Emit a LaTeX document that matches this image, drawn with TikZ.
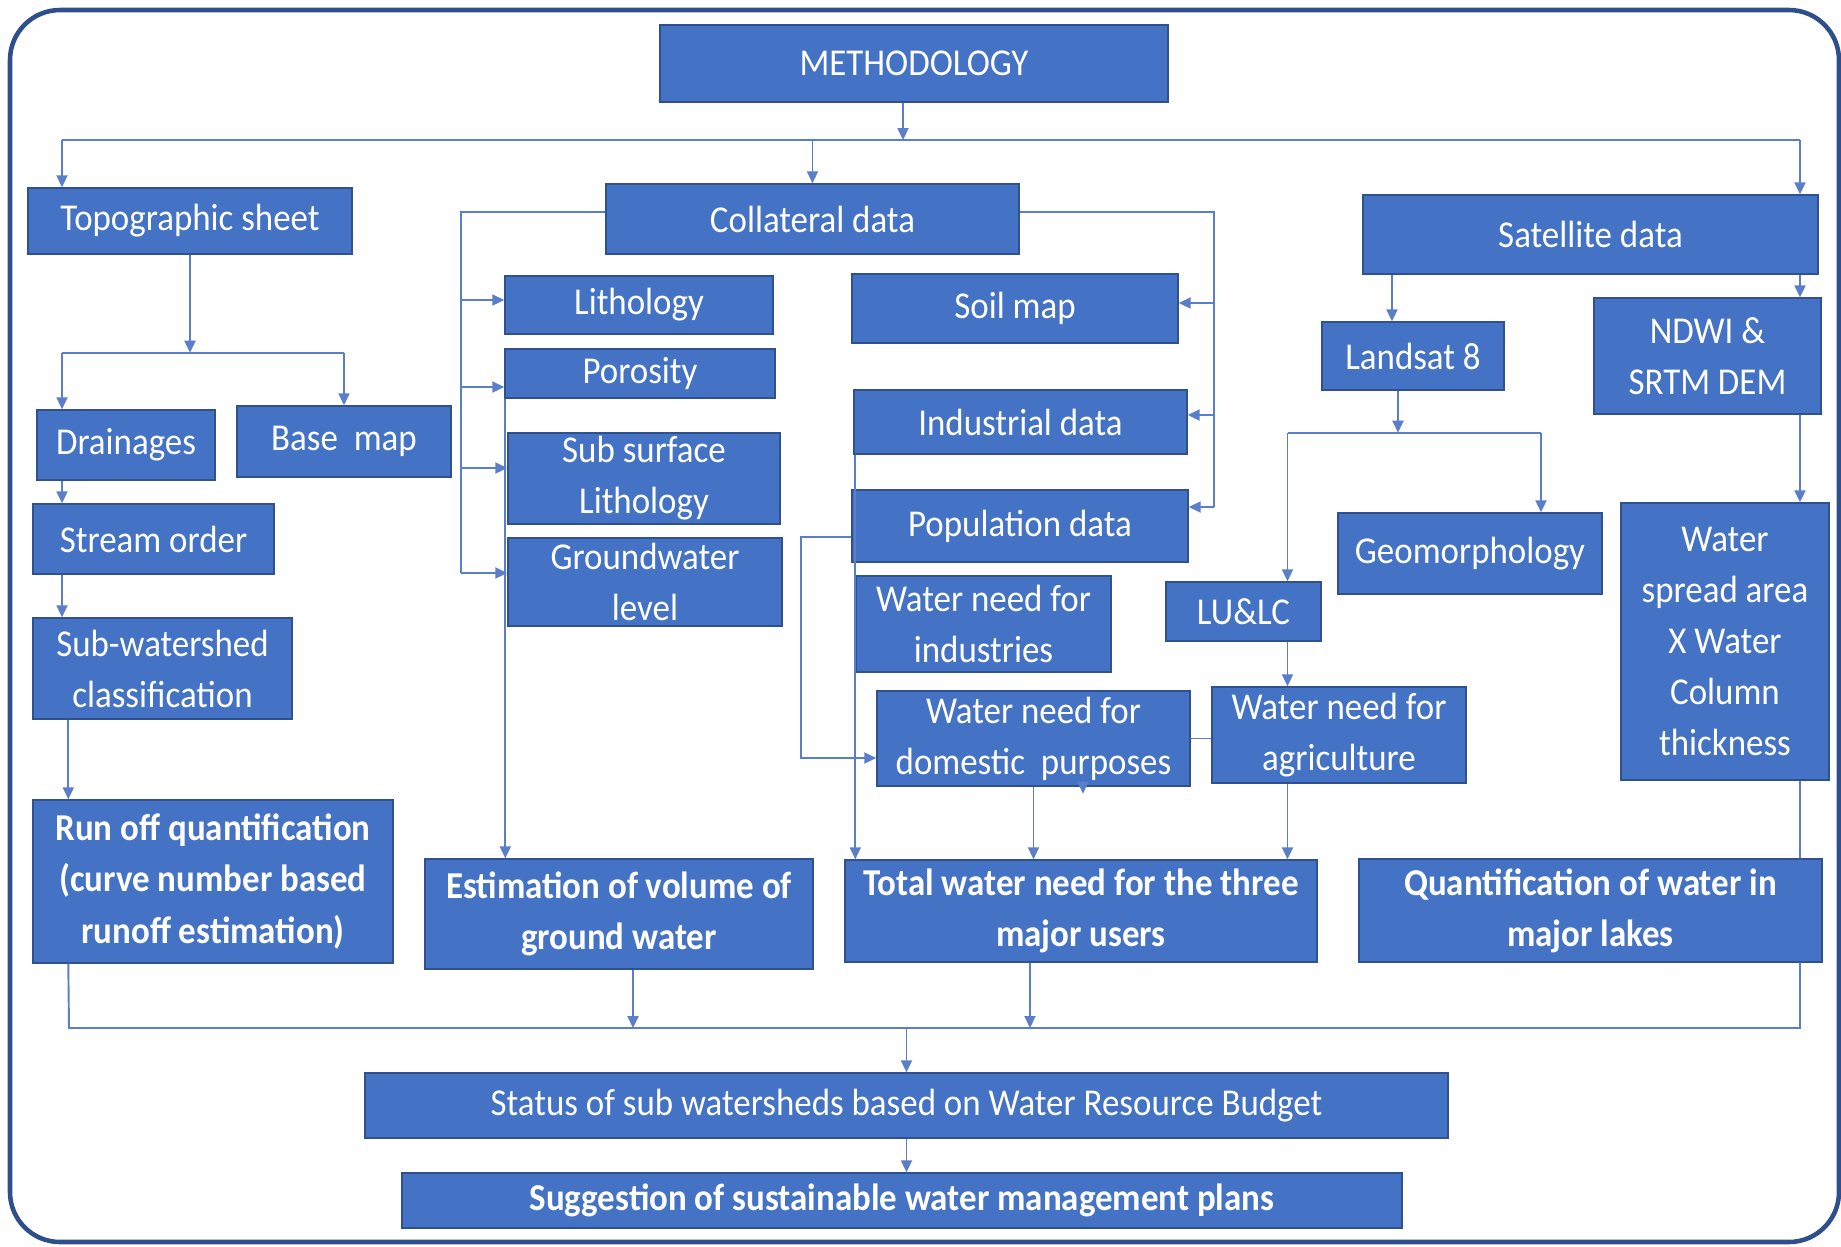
\documentclass[tikz,border=0pt]{standalone}
\usepackage{fontspec}
\setmainfont{Carlito}[FakeStretch=0.92]
\usetikzlibrary{arrows.meta}

\definecolor{boxblue}{HTML}{4472C4}
\definecolor{edgeblue}{HTML}{2F528F}
\definecolor{lineblue}{HTML}{5A7ECA}
\definecolor{framenavy}{HTML}{2F4F8C}

\begin{document}
\begin{tikzpicture}[
		x=1mm, y=-1mm,
		>={Triangle[length=1.2mm, width=1.1mm]},
		box/.style={rectangle, draw=edgeblue, fill=boxblue, text=white, align=center, inner sep=1pt, font=\fontsize{10.8}{14.5}\selectfont},
		boldbox/.style={box, font=\fontsize{10.8}{14.6}\selectfont\bfseries},
		dims/.style 2 args={minimum width=#1mm, minimum height=#2mm},
		link/.style={draw=lineblue, line width=0.55pt}
		]
		
		\useasboundingbox (0,0) rectangle (184.1,124.6);
		
		% Outer frame
		\draw[framenavy, line width=1.3pt, rounded corners=5mm] (1,1) rectangle (183.9,124.2);
		
		% Top level
		\node[box, dims={50.8}{7.7}] (meth) at (91.4,6.35) {METHODOLOGY};
		\node[box, dims={32.4}{6.6}] (topo) at (19.0,22.1) {Topographic sheet};
		\node[box, dims={41.3}{7.0}] (coll) at (81.25,21.9) {Collateral data};
		\node[box, dims={45.5}{7.9}] (sat) at (159.05,23.45) {Satellite data};
		
		% Topographic sheet branch
		\node[box, dims={17.8}{7.0}] (drain) at (12.6,44.5) {Drainages};
		\node[box, dims={21.4}{7.1}] (base) at (34.4,44.15) {Base\ \ map};
		\node[box, dims={24.1}{7.0}] (stream) at (15.35,53.9) {Stream order};
		\node[box, dims={25.9}{10.1}] (subws) at (16.25,66.85) {Sub-watershed\\classification};
		\node[boldbox, dims={36.0}{16.3}] (runoff) at (21.3,88.15) {Run off quantification\\(curve number based\\runoff estimation)};
		
		% Collateral data, left side
		\node[box, dims={26.8}{5.8}] (litho) at (63.9,30.5) {Lithology};
		\node[box, dims={27.0}{4.9}] (poro) at (64.0,37.35) {Porosity};
		\node[box, dims={27.2}{8.5}] (subsurf) at (64.4,47.85) {Sub surface\\Lithology};
		\node[box, dims={27.4}{8.8}] (gwl) at (64.5,58.2) {Groundwater\\level};
		\node[boldbox, dims={38.8}{11.0}] (est) at (61.9,91.4) {Estimation of volume of\\ground water};
		
		% Collateral data, right side
		\node[box, dims={32.6}{6.9}] (soil) at (101.5,30.85) {Soil map};
		\node[box, dims={33.3}{6.4}] (ind) at (102.05,42.2) {Industrial data};
		\node[box, dims={33.6}{7.2}] (pop) at (102.0,52.6) {Population data};
		\node[box, dims={25.5}{9.6}] (wnind) at (98.35,62.4) {Water need for\\industries};
		\node[box, dims={31.3}{9.5}] (wndom) at (103.35,73.85) {Water need for\\domestic\ \ purposes};
		\node[box, dims={25.4}{9.6}] (wnagr) at (133.9,73.5) {Water need for\\agriculture};
		\node[boldbox, dims={47.2}{10.2}] (total) at (108.1,91.1) {Total water need for the three\\major users};
		
		% Satellite data branch
		\node[box, dims={18.2}{6.8}] (landsat) at (141.3,35.6) {Landsat 8};
		\node[box, dims={22.7}{11.6}] (ndwi) at (170.75,35.6) {NDWI \&\\SRTM DEM};
		\node[box, dims={15.5}{5.9}] (lulc) at (124.35,61.15) {LU\&LC};
		\node[box, dims={26.4}{8.1}] (geo) at (147.0,55.35) {Geomorphology};
		\node[box, dims={20.8}{27.7}] (wsa) at (172.5,64.15) {Water\\spread area\\X Water\\Column\\thickness};
		\node[boldbox, dims={46.3}{10.3}] (quant) at (159.05,91.05) {Quantification of water in\\major lakes};
		
		% Bottom
		\node[box, dims={108.3}{6.5}] (status) at (90.65,110.55) {Status of sub watersheds based on Water Resource Budget};
		\node[boldbox, dims={100.0}{5.5}] (sugg) at (90.2,120.05) {Suggestion of sustainable water management plans};
		
		% Main distribution line
		\coordinate (busL) at (6.2,14);
		\coordinate (busR) at (180,14);
		\coordinate (mx) at ([xshift=-1.1mm]meth.south);
		\draw[link,->] (mx) -- (mx |- busL);
		\draw[link] (busL) -- (busR);
		\draw[link,->] (busL) -- (busL |- topo.north);
		\draw[link,->] (coll.north |- busL) -- (coll.north);
		\draw[link,->] (busR) -- (busR |- sat.north);
		
		% Topographic sheet arrows
		\coordinate (tbus) at ([yshift=-9.8mm]topo.south);
		\draw[link,->] (topo.south) -- (tbus);
		\draw[link] (busL |- tbus) -- (base.north |- tbus);
		\draw[link,->] (busL |- tbus) -- (busL |- drain.north);
		\draw[link,->] (base.north |- tbus) -- (base.north);
		\draw[link,->] (busL |- drain.south) -- (busL |- stream.north);
		\draw[link,->] (busL |- stream.south) -- (busL |- subws.north);
		\coordinate (rx) at ([xshift=3.6mm]runoff.north west);
		\draw[link,->] (rx |- subws.south) -- (rx);
		
		% Collateral data arrows, left
		\coordinate (cwl) at ([yshift=0.7mm]coll.west);
		\coordinate (cl) at ([xshift=-14.4mm]cwl);
		\coordinate (gtip) at ([yshift=0.9mm]gwl.west);
		\draw[link] (cwl) -- (cl) -- (cl |- gtip);
		\foreach \b/\s in {litho/0.5, poro/-1.35, subsurf/1.05, gwl/0.9} {
			\coordinate (tip) at ([yshift=\s mm]\b.west);
			\draw[link,->] (cl |- tip) -- (tip);
		}
		\coordinate (px) at ([xshift=0.1mm]poro.south west);
		\draw[link,->] (px) -- (px |- est.north);
		
		% Collateral data arrows, right
		\coordinate (cwr) at ([yshift=0.7mm]coll.east);
		\coordinate (cr) at ([xshift=19.4mm]cwr);
		\coordinate (ptip) at ([yshift=1.9mm]pop.east);
		\draw[link] (cwr) -- (cr) -- (cr |- ptip);
		\foreach \b/\s in {soil/0.55, ind/0.7, pop/1.9} {
			\coordinate (tip) at ([yshift=\s mm]\b.east);
			\draw[link,->] (cr |- tip) -- (tip);
		}
		\coordinate (ix) at ([xshift=0.2mm]ind.south west);
		\draw[link,->] (ix) -- (ix |- total.north);
		\coordinate (pw) at ([yshift=-1.1mm]pop.west);
		\coordinate (dw) at ([yshift=-1.95mm]wndom.west);
		\draw[link,->] (pw) -- ++(-5,0) |- (dw);
		\draw[link,->] (wndom.south) -- (wndom.south |- total.north);
		\draw[link] (wndom.east) -- (wndom.east -| wnagr.west);
		\coordinate (stray) at ([xshift=4.95mm]wndom.south);
		\draw[link,->] ([yshift=0.6mm]stray) -- ([yshift=-0.7mm]stray);
		
		% Satellite data arrows
		\draw[link,->] (busR |- sat.south) -- (busR |- ndwi.north);
		\draw[link,->] (busR |- ndwi.south) -- (busR |- wsa.north);
		\draw[link] (busR |- wsa.south) -- (busR |- quant.north);
		\coordinate (lx) at ([xshift=-2.1mm]landsat.north);
		\draw[link,->] (lx |- sat.south) -- (lx);
		\coordinate (lbus) at ([xshift=-1.5mm, yshift=-4.2mm]landsat.south);
		\draw[link,->] ([xshift=-1.5mm]landsat.south) -- (lbus);
		\coordinate (ux) at ([xshift=4.4mm]lulc.north);
		\coordinate (gx) at ([xshift=7.1mm]geo.north);
		\draw[link] (ux |- lbus) -- (gx |- lbus);
		\draw[link,->] (ux |- lbus) -- (ux);
		\draw[link,->] (gx |- lbus) -- (gx);
		\draw[link,->] (ux |- lulc.south) -- (ux |- wnagr.north);
		\draw[link,->] (ux |- wnagr.south) -- (ux |- total.north);
		
		% Collecting line and final steps
		\coordinate (bbL) at (6.9,102.8);
		\coordinate (bbR) at (180,102.8);
		\draw[link] (rx |- runoff.south) -- (bbL) -- (bbR) -- (busR |- quant.south);
		\coordinate (ex) at ([xshift=1.4mm]est.south);
		\draw[link,->] (ex) -- (ex |- bbL);
		\coordinate (tx) at ([xshift=-5.1mm]total.south);
		\draw[link,->] (tx) -- (tx |- bbL);
		\draw[link,->] (status.north |- bbL) -- (status.north);
		\draw[link,->] (status.south) -- (status.south |- sugg.north);
		
	\end{tikzpicture}
\end{document}
